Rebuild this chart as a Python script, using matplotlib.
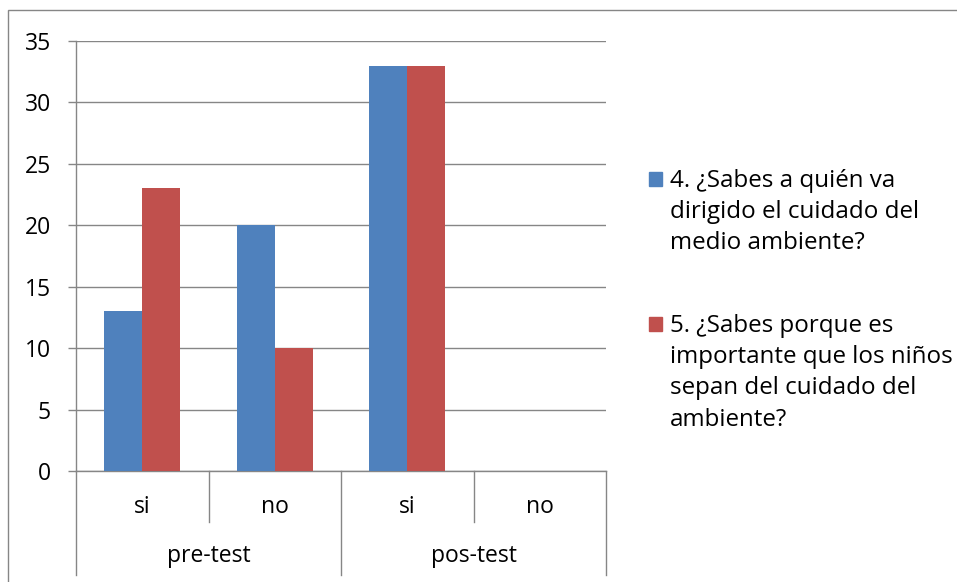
import numpy as np
import matplotlib
matplotlib.use('Agg')
import matplotlib.pyplot as plt
from matplotlib.patches import Rectangle
import matplotlib.transforms as mtransforms

plt.rcParams['font.family'] = ['Open Sans', 'DejaVu Sans']

# data
groups = ['pre-test', 'pos-test']
answers = ['si', 'no', 'si', 'no']
series_names = ['4. ¿Sabes a quién va\ndirigido el cuidado del\nmedio ambiente?',
                '5. ¿Sabes porque es\nimportante que los niños\nsepan del cuidado del\nambiente?']
q4 = [13, 20, 33, 0]
q5 = [23, 10, 33, 0]
colors = ['#4F81BD', '#C0504D']
grid_col = '#868686'
fs = 16.5
leg_fs = 17.4

W, H = 957, 582
fig = plt.figure(figsize=(W / 100, H / 100), dpi=100)
# chart border
fig.patches.append(Rectangle((8 / W, -0.02), 1.0, 1 - 10 / H + 0.02,
                             transform=fig.transFigure, fill=False,
                             edgecolor=grid_col, linewidth=1.0))

ax = fig.add_axes([76 / W, 1 - 471 / H, 530 / W, 430 / H])

x = np.arange(len(answers)) + 0.5
w = 0.286
ax.bar(x - w / 2, q4, w, color=colors[0], zorder=3)
ax.bar(x + w / 2, q5, w, color=colors[1], zorder=3)

ax.set_xlim(0, len(answers))
ax.set_ylim(0, 35)
ax.set_yticks(range(0, 36, 5))
ax.yaxis.grid(True, color=grid_col, linewidth=1.0, zorder=0)
ax.tick_params(axis='y', length=6, width=1.0, color=grid_col, pad=12,
               labelsize=fs, labelcolor='black')
ax.set_xticks([])
for s in ['top', 'right']:
    ax.spines[s].set_visible(False)
for s in ['left', 'bottom']:
    ax.spines[s].set_color(grid_col)
    ax.spines[s].set_linewidth(1.0)

# multi-level category axis
trans = mtransforms.blended_transform_factory(ax.transData, ax.transAxes)
inner_y = (471 - 522) / 430
outer_y = (471 - 575) / 430
for i in range(len(answers) + 1):
    bottom = outer_y if i % 2 == 0 else inner_y
    ax.plot([i, i], [0, bottom], color=grid_col, lw=1.0, transform=trans,
            clip_on=False)
for i, lab in enumerate(answers):
    ax.text(i + 0.5, (471 - 513) / 430, lab, transform=trans, ha='center',
            va='baseline', fontsize=fs)
for j, g in enumerate(groups):
    ax.text(2 * j + 1, (471 - 562) / 430, g, transform=trans, ha='center',
            va='baseline', fontsize=fs)

# legend, marker aligned with first line like Excel
legend_base = [186, 331]
line_px = 31.5
for name, col, base in zip(series_names, colors, legend_base):
    fig.patches.append(Rectangle((649 / W, 1 - base / H), 13 / W, 14 / H,
                                 transform=fig.transFigure, color=col))
    last = base + name.count('\n') * line_px
    fig.text(670 / W, 1 - last / H, name, ha='left', va='baseline',
             fontsize=leg_fs, linespacing=1.39)

fig.savefig('out.png', dpi=100)
